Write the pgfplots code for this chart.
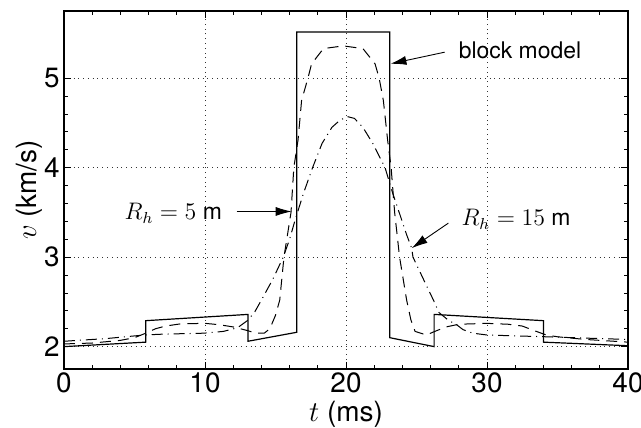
\documentclass[border=0pt]{standalone}
\usepackage{fontspec}
\setmainfont{TeX Gyre Heros}
\usepackage{pgfplots}
\pgfplotsset{compat=1.18}
\usetikzlibrary{arrows.meta}

\begin{document}
\begin{tikzpicture}
\begin{axis}[
  at={(0,0)}, anchor=south west,
  width=282bp, height=179bp, scale only axis,
  xmin=0, xmax=40, ymin=1.75, ymax=5.75,
  xtick={0,10,...,40}, ytick={2,3,4,5},
  minor x tick num=4, minor y tick num=4,
  tick align=inside, xtick pos=both, ytick pos=both,
  major tick length=3.5bp, minor tick length=2bp,
  grid=major, major grid style={dotted, black!80, line width=0.5bp},
  axis line style={line width=0.6bp},
  every tick/.style={black, line width=0.4bp},
  tick label style={font=\fontsize{14}{16}\selectfont},
  xticklabel style={inner sep=1.5bp},
  yticklabel style={inner sep=2bp},
  label style={font=\fontsize{14}{16}\selectfont},
  xlabel style={at={(axis description cs:0.5,-0.126)}, anchor=center},
  ylabel style={at={(axis description cs:-0.062,0.5)}, anchor=center},
  /pgf/number format/assume math mode=true,
  xlabel={$t$ (ms)}, ylabel={$v$ (km/s)},
]
% block model
\addplot[black, line width=0.6bp] table {
0 2.00
5.8 2.05
5.8 2.29
13.05 2.36
13.05 2.06
16.5 2.16
16.5 5.515
23.1 5.515
23.1 2.10
26.25 2.00
26.25 2.36
34.0 2.29
34.0 2.05
40 2.01
};
% R_h = 5 m
\addplot[black, line width=0.5bp, dash pattern=on 5.5bp off 3.5bp] table {
0 2.03
2 2.04
4 2.07
5 2.10
5.8 2.15
6.5 2.20
7.2 2.23
8.3 2.255
10 2.26
11 2.245
12 2.22
13 2.18
13.6 2.15
14.2 2.15
14.6 2.20
15.0 2.35
15.3 2.52
15.6 3.0
16.1 3.5
16.3 4.0
16.6 4.31
16.85 4.75
17.3 5.0
17.56 5.16
18.4 5.33
19.8 5.36
21.2 5.33
22.06 5.16
22.35 5.0
22.65 4.75
22.95 4.31
23.2 4.0
23.45 3.5
23.8 3.0
24.3 2.52
24.6 2.30
24.9 2.17
25.7 2.13
26.3 2.17
27.1 2.22
28 2.25
30 2.26
31.5 2.25
32.5 2.23
33.5 2.17
34.2 2.13
35 2.11
37 2.08
40 2.05
};
% R_h = 15 m
\addplot[black, line width=0.5bp, dash pattern=on 5.5bp off 2.5bp on 0.5bp off 2.5bp] table {
0 2.06
3 2.09
5.7 2.13
7.1 2.14
9.9 2.15
11.3 2.17
12.3 2.21
13.0 2.29
13.5 2.38
14.0 2.52
14.8 2.75
15.55 3.0
16.0 3.2
16.4 3.42
17.0 3.72
17.63 4.0
18.3 4.27
19.0 4.45
19.57 4.53
20.1 4.57
20.6 4.55
21.2 4.45
21.9 4.27
22.77 4.0
23.3 3.72
23.94 3.42
24.3 3.25
24.66 3.1
24.75 3.0
25.5 2.75
26.2 2.52
26.6 2.38
27.3 2.29
27.8 2.25
28.3 2.19
29.0 2.15
30 2.13
32 2.12
34.2 2.11
37 2.095
40 2.08
};
\node[anchor=west, font=\fontsize{11.5}{13}\selectfont] at (axis cs:27.5,5.31) {block model};
\draw[-{Latex[length=8bp,width=4.5bp]}, line width=0.45bp, black] (axis cs:27.0,5.29) -- (axis cs:23.15,5.16);
\node[anchor=east, font=\fontsize{11.5}{13}\selectfont] at (axis cs:11.7,3.49) {$R_h = 5$ m};
\draw[-{Latex[length=8bp,width=4.5bp]}, line width=0.45bp, black] (axis cs:12.25,3.51) -- (axis cs:16.15,3.51);
\node[anchor=west, font=\fontsize{11.5}{13}\selectfont] at (axis cs:27.7,3.42) {$R_h = 15$ m};
\draw[-{Latex[length=8bp,width=4.5bp]}, line width=0.45bp, black] (axis cs:27.26,3.38) -- (axis cs:24.66,3.10);
\end{axis}
\pgfresetboundingbox
\useasboundingbox (-32bp,-29.5bp) rectangle (288.5bp,184.5bp);
\end{tikzpicture}
\end{document}
